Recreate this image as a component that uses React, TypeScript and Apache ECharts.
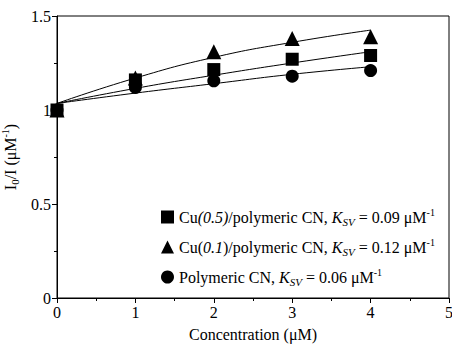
import React, { useEffect, useRef } from "react";
import * as echarts from "echarts";

const concentrations = [0, 1, 2, 3, 4];
const cu05Values = [1.0, 1.16, 1.215, 1.27, 1.29];
const cu01Values = [1.0, 1.17, 1.31, 1.38, 1.39];
const pcnValues = [1.0, 1.12, 1.155, 1.18, 1.21];
const cu05Fit = [1.035, 1.115, 1.185, 1.25, 1.31];
const cu01Fit = [1.035, 1.17, 1.28, 1.36, 1.425];
const pcnFit = [1.035, 1.09, 1.14, 1.19, 1.23];

const seriesNames = ["Cu(0.5)", "Cu(0.1)", "Polymeric CN"];
const legendLabels: Record<string, string> = {
  "Cu(0.5)": "Cu{i|(0.5)}/polymeric CN, {i|K}{sub|SV} = 0.09 μM{sup|-1}",
  "Cu(0.1)": "Cu({i|0.1})/polymeric CN, {i|K}{sub|SV} = 0.12 μM{sup|-1}",
  "Polymeric CN": "Polymeric CN, {i|K}{sub|SV} = 0.06 μM{sup|-1}",
};

const FONT = "'Liberation Serif', 'Times New Roman', serif";

const pairs = (ys: number[]) => concentrations.map((x, i) => [x, ys[i]]);

export default function App() {
  const ref = useRef<HTMLDivElement>(null);
  useEffect(() => {
    if (!ref.current) return;
    const chart = echarts.init(ref.current, undefined, { renderer: "svg" });
    const baseText = { fontFamily: FONT, fontSize: 16, color: "#000" };
    const fitLine = (name: string, ys: number[]) => ({
      name,
      type: "line",
      data: pairs(ys),
      smooth: true,
      symbol: "none",
      lineStyle: { color: "#000", width: 1 },
      z: 2,
    });
    const scatter = (name: string, ys: number[], symbol: string, size: number) => ({
      name,
      type: "scatter",
      data: pairs(ys),
      symbol,
      symbolSize: size,
      itemStyle: { color: "#000", opacity: 1 },
      z: 3,
    });
    chart.setOption({
      animation: false,
      backgroundColor: "#fff",
      grid: {
        left: 57,
        right: 3,
        top: 16,
        bottom: 46,
        containLabel: false,
        outerBoundsMode: "none",
        show: true,
        borderColor: "#000",
        borderWidth: 1,
      },
      xAxis: {
        type: "value",
        min: 0,
        max: 5,
        interval: 1,
        name: "Concentration (μM)",
        nameLocation: "middle",
        nameGap: 28,
        nameTextStyle: baseText,
        axisLine: { lineStyle: { color: "#000", width: 1 } },
        axisTick: { inside: false, length: 5, lineStyle: { color: "#000" } },
        minorTick: { show: true, splitNumber: 2, length: 3, lineStyle: { color: "#000" } },
        splitLine: { show: false },
        axisLabel: { ...baseText, margin: 6 },
      },
      yAxis: {
        type: "value",
        min: 0,
        max: 1.5,
        interval: 0.5,
        name: "I{sub|0}/I (μM{sup|-1})",
        nameLocation: "middle",
        nameGap: 30,
        nameTextStyle: {
          ...baseText,
          rich: {
            sub: { fontFamily: FONT, fontSize: 11, color: "#000", verticalAlign: "bottom", lineHeight: 11 },
            sup: { fontFamily: FONT, fontSize: 10, color: "#000", verticalAlign: "top", lineHeight: 10 },
          },
          lineHeight: 20,
        },
        axisLine: { show: true, lineStyle: { color: "#000", width: 1 } },
        axisTick: { show: true, inside: false, length: 5, lineStyle: { color: "#000" } },
        minorTick: { show: true, splitNumber: 2, length: 3, lineStyle: { color: "#000" } },
        splitLine: { show: false },
        axisLabel: { ...baseText, margin: 6 },
      },
      legend: {
        data: seriesNames,
        orient: "vertical",
        left: 156,
        top: 202,
        itemWidth: 13,
        itemHeight: 13,
        itemGap: 10,
        selectedMode: false,
        formatter: (name: string) => legendLabels[name] || name,
        textStyle: {
          ...baseText,
          lineHeight: 20,
          rich: {
            i: { fontFamily: FONT, fontSize: 16, fontStyle: "italic", color: "#000" },
            sub: { fontFamily: FONT, fontSize: 11, fontStyle: "italic", color: "#000", verticalAlign: "bottom", lineHeight: 11 },
            sup: { fontFamily: FONT, fontSize: 10, color: "#000", verticalAlign: "top", lineHeight: 10 },
          },
        },
      },
      series: [
        fitLine("fit-cu05", cu05Fit),
        fitLine("fit-cu01", cu01Fit),
        fitLine("fit-pcn", pcnFit),
        scatter("Polymeric CN", pcnValues, "circle", 13),
        scatter("Cu(0.1)", cu01Values, "triangle", 15),
        scatter("Cu(0.5)", cu05Values, "rect", 13),
      ],
    });
    return () => chart.dispose();
  }, []);
  return <div ref={ref} style={{ width: 452, height: 344, position: "absolute", left: 0, top: 0 }} />;
}
